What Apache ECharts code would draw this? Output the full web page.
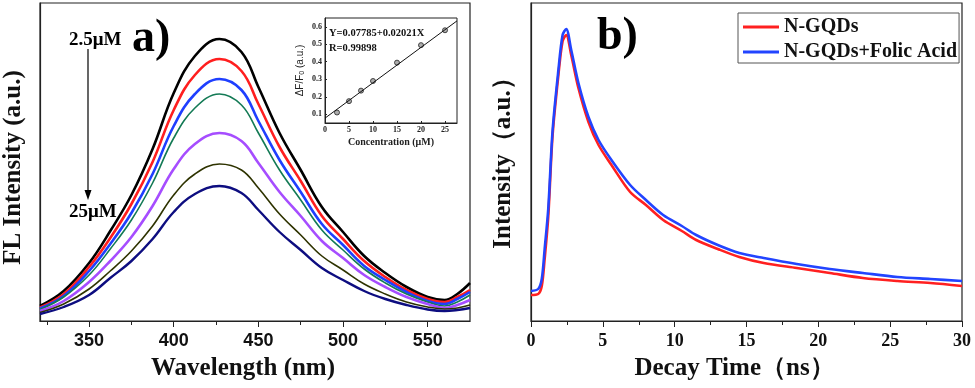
<!DOCTYPE html>
<html>
<head>
<meta charset="utf-8">
<script src="https://cdn.jsdelivr.net/npm/echarts@6/dist/echarts.min.js"></script>
<style>
  html, body { margin: 0; padding: 0; background: #fff; }
  #chart { width: 975px; height: 388px; }
</style>
</head>
<body>
<div id="chart"></div>
<script>
// a) emission spectra, 2.5 uM (top) -> 25 uM (bottom)
const wavelength = [321, 335, 350, 362.5, 375, 387.5, 400, 412.5, 427, 440, 450, 462.5, 475, 487.5, 500, 512.5, 525, 537.5, 550, 560, 567.5, 575];
const flBlack  = [15, 30, 58, 90, 126, 172, 228, 265, 282, 269, 234, 188, 151, 114, 89, 65, 48, 34, 24, 21, 27, 38];
const flRed    = [13.5, 27, 54, 83, 117, 159, 211, 246, 262, 250, 217, 174, 140, 105, 82, 60, 44, 31, 22, 19, 24, 31];
const flBlue   = [12.5, 25, 50, 77, 108, 147, 195, 227, 242, 231, 200, 161, 129, 97, 76, 55, 41, 29, 20, 17, 22, 29];
const flGreen  = [11.5, 24, 46, 72, 101, 138, 183, 213, 227, 216, 188, 151, 121, 91, 71, 52, 38, 27, 19, 15, 19, 26];
const flViolet = [10, 20, 39, 60, 84, 115, 152, 177, 188, 180, 158, 129, 105, 80, 63, 46, 34, 24, 17, 13, 16, 21];
const flOlive  = [8.5, 17, 32, 50, 70, 95, 126, 147, 157, 151, 133, 107, 86, 65, 51, 37, 27, 19, 14, 12, 13, 16];
const flNavy   = [7, 14, 26, 43, 60, 82, 109, 127, 135, 128, 111, 89, 71, 53, 41, 30, 22, 16, 11.5, 10, 11, 13];

// inset: calibration
const concentration = [2.5, 5, 7.5, 10, 15, 20, 25];
const dF = [0.11, 0.175, 0.235, 0.29, 0.395, 0.495, 0.58];
const fitX = [0, 27.5];

// b) decay curves
const decayTime = [0, 0.5, 0.75, 0.95, 1.2, 1.5, 1.9, 2.2, 2.45, 2.8, 3.3, 4.0, 4.7, 5.6, 6.9, 8, 9.2, 10.5, 11.5, 13, 14.5, 16.2, 18.5, 20.8, 23.1, 25.5, 27.8, 30];
const decayGQD = [26, 27, 35, 62, 104, 185, 245, 280, 286, 266, 233, 199, 176, 156, 129, 116, 101, 90, 81, 72, 64, 58, 53, 48, 43, 40, 38, 35];
const decayFA  = [30, 32, 42, 72, 112, 190, 250, 286, 292, 271, 238, 204, 181, 161, 136, 121, 106, 95, 86, 76, 68, 63, 57, 52, 48, 44, 42, 40];

const serif = 'Liberation Serif';
const sans = 'Liberation Sans';

function pairs(xs, ys) {
    return xs.map((x, i) => [x, ys[i]]);
}

function specLine(data, color, width) {
    return {
        type: 'line', xAxisIndex: 0, yAxisIndex: 0,
        data: pairs(wavelength, data),
        smooth: 0.4, showSymbol: false, silent: true,
        lineStyle: { color: color, width: width }
    };
}

const options = {
    animation: false,
    grid: [
        { left: 39, top: 3, width: 431, height: 318, show: true, borderColor: '#222', borderWidth: 1.2 },
        { left: 325, top: 18, width: 132, height: 105, show: true, borderColor: '#222', borderWidth: 1, backgroundColor: '#fff' },
        { left: 531, top: 3, width: 431, height: 318, show: true, borderColor: '#222', borderWidth: 1.2 }
    ],
    xAxis: [
        {
            gridIndex: 0, type: 'value', min: 321, max: 575,
            name: 'Wavelength (nm)', nameLocation: 'middle', nameGap: 35,
            nameTextStyle: { fontFamily: serif, fontWeight: 'bold', fontSize: 25, color: '#111', padding: [0, 24, 0, 0] },
            axisLine: { lineStyle: { color: '#222', width: 1.2 } },
            axisTick: { customValues: [350, 400, 450, 500, 550], length: 6, lineStyle: { color: '#222' } },
            axisLabel: { customValues: [350, 400, 450, 500, 550], margin: 11, fontFamily: sans, fontWeight: 'bold', fontSize: 18, color: '#111' },
            splitLine: { show: false }
        },
        {
            gridIndex: 0, type: 'value', min: 321, max: 575, position: 'bottom', offset: 0,
            axisLine: { show: false },
            axisTick: { customValues: [325, 375, 425, 475, 525], length: 4, lineStyle: { color: '#222' } },
            axisLabel: { show: false },
            splitLine: { show: false }
        },
        {
            gridIndex: 1, type: 'value', min: 0, max: 27.5,
            name: 'Concentration (μM)', nameLocation: 'middle', nameGap: 14,
            nameTextStyle: { fontFamily: serif, fontWeight: 'bold', fontSize: 10, color: '#222' },
            axisLine: { lineStyle: { color: '#222', width: 1 } },
            axisTick: { customValues: [0, 5, 10, 15, 20, 25], length: 2, inside: true },
            axisLabel: { customValues: [0, 5, 10, 15, 20, 25], margin: 3, fontFamily: serif, fontWeight: 'bold', fontSize: 8, color: '#222' },
            splitLine: { show: false }
        },
        {
            gridIndex: 2, type: 'value', min: 0, max: 30, interval: 5,
            name: 'Decay Time（ns）', nameLocation: 'middle', nameGap: 35,
            nameTextStyle: { fontFamily: serif, fontWeight: 'bold', fontSize: 25, color: '#111', padding: [0, 24, 0, 0] },
            axisLine: { lineStyle: { color: '#222', width: 1.2 } },
            axisTick: { length: 6, lineStyle: { color: '#222' } },
            minorTick: { show: true, splitNumber: 2, length: 4, lineStyle: { color: '#222' } },
            axisLabel: { margin: 11, fontFamily: serif, fontWeight: 'bold', fontSize: 18, color: '#111' },
            splitLine: { show: false }
        }
    ],
    yAxis: [
        {
            gridIndex: 0, type: 'value', min: 0, max: 318,
            name: 'FL Intensity (a.u.)', nameLocation: 'middle', nameGap: 14,
            nameTextStyle: { fontFamily: serif, fontWeight: 'bold', fontSize: 25, color: '#111', padding: [0, 11, 0, 0] },
            axisLine: { lineStyle: { color: '#222', width: 1.2 } },
            axisTick: { show: false }, axisLabel: { show: false }, splitLine: { show: false }
        },
        {
            gridIndex: 1, type: 'value', min: 0.05, max: 0.65,
            name: 'ΔF/F{sub|0} (a.u.)', nameLocation: 'middle', nameGap: 19,
            nameTextStyle: {
                fontFamily: sans, fontSize: 10, color: '#222',
                rich: { sub: { fontFamily: sans, fontSize: 7, color: '#222', verticalAlign: 'bottom', padding: [4, 0, 0, 0] } }
            },
            axisLine: { lineStyle: { color: '#222', width: 1 } },
            axisTick: { customValues: [0.1, 0.2, 0.3, 0.4, 0.5, 0.6], length: 2, inside: true },
            axisLabel: { customValues: [0.1, 0.2, 0.3, 0.4, 0.5, 0.6], margin: 3, fontFamily: serif, fontWeight: 'bold', fontSize: 8, color: '#222' },
            splitLine: { show: false }
        },
        {
            gridIndex: 2, type: 'value', min: 0, max: 318,
            name: 'Intensity（a.u.）', nameLocation: 'middle', nameGap: 15,
            nameTextStyle: { fontFamily: serif, fontWeight: 'bold', fontSize: 25, color: '#111', padding: [0, 0, 0, 10] },
            axisLine: { lineStyle: { color: '#222', width: 1.2 } },
            axisTick: { show: false }, axisLabel: { show: false }, splitLine: { show: false }
        }
    ],
    legend: {
        data: ['N-GQDs', 'N-GQDs+Folic Acid'],
        orient: 'vertical', left: 738, top: 13,
        padding: [4, 2, 1, 5], itemGap: 5,
        itemWidth: 36, itemHeight: 3, icon: 'rect',
        borderColor: '#555', borderWidth: 1,
        textStyle: { fontFamily: serif, fontWeight: 'bold', fontSize: 20, color: '#111' }
    },
    series: [
        specLine(flBlack, '#000000', 2.6),
        specLine(flRed, '#ff1f1f', 2.6),
        specLine(flBlue, '#1f3fff', 2.6),
        specLine(flGreen, '#137a55', 1.6),
        specLine(flViolet, '#a64dff', 2.6),
        specLine(flOlive, '#2e3300', 1.6),
        specLine(flNavy, '#0d0d80', 2.4),
        {
            type: 'line', xAxisIndex: 2, yAxisIndex: 1, silent: true,
            data: fitX.map(x => [x, 0.07785 + 0.02021 * x]),
            showSymbol: false, lineStyle: { color: '#111', width: 1 }
        },
        {
            type: 'scatter', xAxisIndex: 2, yAxisIndex: 1, silent: true,
            data: pairs(concentration, dF), symbolSize: 5,
            itemStyle: { color: '#999', borderColor: '#222', borderWidth: 1 }
        },
        {
            name: 'N-GQDs', type: 'line', xAxisIndex: 3, yAxisIndex: 2,
            data: pairs(decayTime, decayGQD), smooth: 0.3, showSymbol: false,
            color: '#ff2020', lineStyle: { color: '#ff2020', width: 2.6 }
        },
        {
            name: 'N-GQDs+Folic Acid', type: 'line', xAxisIndex: 3, yAxisIndex: 2,
            data: pairs(decayTime, decayFA), smooth: 0.3, showSymbol: false,
            color: '#2244ff', lineStyle: { color: '#2244ff', width: 2.6 }
        }
    ],
    graphic: [
        { type: 'text', left: 132, top: 16, style: { text: 'a)', fontFamily: serif, fontWeight: 'bold', fontSize: 46, fill: '#000' } },
        { type: 'text', left: 597, top: 14, style: { text: 'b)', fontFamily: serif, fontWeight: 'bold', fontSize: 46, fill: '#000' } },
        { type: 'text', left: 69, top: 31, style: { text: '2.5μM', fontFamily: serif, fontWeight: 'bold', fontSize: 19, fill: '#000' } },
        { type: 'text', left: 69, top: 203, style: { text: '25μM', fontFamily: serif, fontWeight: 'bold', fontSize: 19, fill: '#000' } },
        { type: 'line', shape: { x1: 88, y1: 49, x2: 88, y2: 192 }, style: { stroke: '#000', lineWidth: 1.2 } },
        { type: 'polygon', shape: { points: [[84.5, 190], [91.5, 190], [88, 200]] }, style: { fill: '#000' } },
        { type: 'text', left: 329, top: 28, z: 10, style: { text: 'Y=0.07785+0.02021X', fontFamily: serif, fontWeight: 'bold', fontSize: 10.5, fill: '#111' } },
        { type: 'text', left: 329, top: 43, z: 10, style: { text: 'R=0.99898', fontFamily: serif, fontWeight: 'bold', fontSize: 10.5, fill: '#111' } }
    ]
};

const E = echarts.init(document.getElementById('chart'));
E.setOption(options);
window.onresize = function () {
    E.resize();
};
</script>
</body>
</html>
